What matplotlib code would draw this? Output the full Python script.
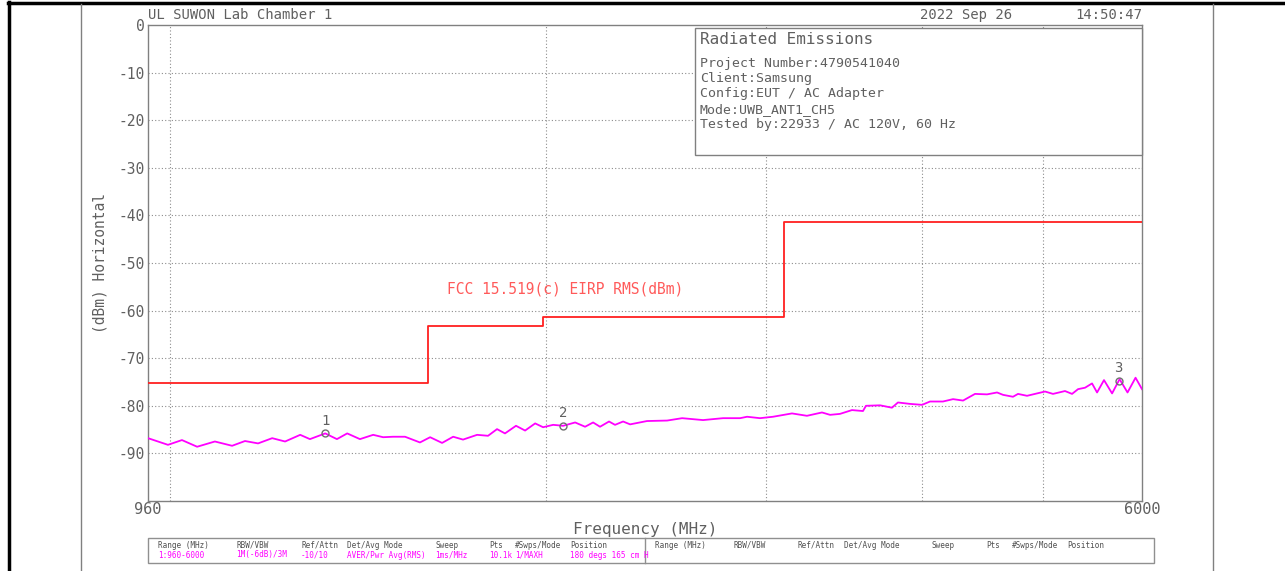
import matplotlib
matplotlib.use("Agg")
import matplotlib.pyplot as plt
from matplotlib.lines import Line2D
from matplotlib.patches import Rectangle
from matplotlib.ticker import NullLocator

# --- data ---
trace_freq = [960, 996, 1022, 1051, 1086, 1121, 1148, 1176, 1207, 1236, 1271, 1294,
              1331, 1360, 1386, 1419, 1454, 1481, 1508, 1542, 1585, 1615, 1651, 1685,
              1716, 1761, 1797, 1827, 1854, 1892, 1924, 1960, 1989, 2026, 2064, 2110,
              2149, 2181, 2209, 2246, 2271, 2305, 2335, 2409, 2500, 2570, 2671, 2771,
              2860, 2897, 2967, 3039, 3147, 3235, 3326, 3376, 3438, 3515, 3587, 3607,
              3702, 3784, 3826, 3912, 4000, 4059, 4157, 4235, 4314, 4410, 4509, 4593,
              4644, 4730, 4774, 4854, 4944, 5018, 5092, 5206, 5274, 5333, 5402, 5472,
              5523, 5594, 5678, 5757, 5842, 5929, 6000]
trace_dbm = [-86.8, -88.2, -87.2, -88.6, -87.5, -88.4, -87.4, -87.9, -86.8, -87.5, -86.1, -87.0,
             -85.8, -87.0, -85.8, -87.0, -86.1, -86.6, -86.5, -86.5, -87.7, -86.6, -87.8, -86.5,
             -87.1, -86.1, -86.3, -84.9, -85.8, -84.2, -85.2, -83.7, -84.5, -84.0, -84.2, -83.5,
             -84.4, -83.5, -84.4, -83.3, -84.0, -83.3, -83.9, -83.2, -83.1, -82.6, -83.0, -82.6,
             -82.6, -82.3, -82.6, -82.3, -81.6, -82.1, -81.4, -81.9, -81.7, -80.9, -81.1, -80.0,
             -79.9, -80.4, -79.3, -79.6, -79.8, -79.1, -79.1, -78.6, -78.9, -77.5, -77.6, -77.2,
             -77.7, -78.1, -77.5, -77.9, -77.4, -77.0, -77.5, -76.9, -77.5, -76.5, -76.2, -75.3,
             -77.2, -74.6, -77.4, -74.4, -77.2, -74.1, -76.5]

limit_freq = [960, 1610, 1610, 1990, 1990, 3100, 3100, 6000]
limit_dbm = [-75.3, -75.3, -63.3, -63.3, -61.3, -61.3, -41.3, -41.3]

marker_ids = ["1", "2", "3"]
marker_freq = [1331, 2064, 5747]
marker_dbm = [-85.8, -84.2, -74.8]

grid_freq = [1000, 2000, 3000, 4000, 5000]
y_ticks = [0, -10, -20, -30, -40, -50, -60, -70, -80, -90, -100]

info_lines = ["Project Number:4790541040", "Client:Samsung", "Config:EUT / AC Adapter",
              "Mode:UWB_ANT1_CH5", "Tested by:22933 / AC 120V, 60 Hz"]

tbl_heads = ["Range (MHz)", "RBW/VBW", "Ref/Attn", "Det/Avg Mode", "Sweep", "Pts",
             "#Swps/Mode", "Position"]
tbl_vals = ["1:960-6000", "1M(-6dB)/3M", "-10/10", "AVER/Pwr Avg(RMS)", "1ms/MHz",
            "10.1k", "1/MAXH", "180 degs 165 cm H"]

W, H = 1285, 571
txt_col = "#606060"
grid_col = "#8c8c8c"
mono = ["DejaVu Sans Mono"]


def fx(x):
    return x / W


def fy(y):
    return 1 - y / H


fig = plt.figure(figsize=(W / 100, H / 100), dpi=100)
fig.patch.set_facecolor("white")
ax = fig.add_axes([fx(148), fy(501), (1142 - 148) / W, (501 - 25) / H])

ax.set_xscale("log")
ax.set_xlim(960, 6000)
ax.set_ylim(-100, 0)

for f in grid_freq:
    ax.axvline(f, color=grid_col, lw=0.8, ls=(0, (1, 2)), zorder=1)
for y in y_ticks[1:-1]:
    ax.axhline(y, color=grid_col, lw=0.8, ls=(0, (1, 2)), zorder=1)

ax.plot(limit_freq, limit_dbm, color="#ff2020", lw=1.3, zorder=3)
ax.plot(trace_freq, trace_dbm, color="#ff00ff", lw=1.3, zorder=4)
ax.plot(marker_freq, marker_dbm, ls="none", marker="o", ms=5, mfc="none",
        mec="#707070", mew=1.0, zorder=5)
for lab, f, d in zip(marker_ids, marker_freq, marker_dbm):
    ax.text(f, d + 1.2, lab, ha="center", va="bottom", fontsize=10,
            family=mono, color=txt_col, zorder=6)

ax.text(2070, -55.4, "FCC 15.519(c) EIRP RMS(dBm)", ha="center", va="center",
        fontsize=10.5, family=mono, color="#ff5a5a")

ax.set_yticks(y_ticks)
ax.set_yticklabels([str(v) if v > -100 else "" for v in y_ticks], family=mono,
                   fontsize=10.5, color=txt_col)
ax.set_xticks([960, 6000])
ax.set_xticklabels(["960", "6000"], family=mono, fontsize=11, color=txt_col)
ax.xaxis.set_minor_locator(NullLocator())
ax.tick_params(length=0, pad=2)
ax.tick_params(axis="x", pad=1)
for s in ax.spines.values():
    s.set_color("#808080")
    s.set_linewidth(1.0)

ax.set_xlabel("Frequency (MHz)", family=mono, fontsize=11.5, color=txt_col, labelpad=3)
ax.set_ylabel("(dBm) Horizontal", family=mono, fontsize=10.5, color=txt_col, labelpad=8)

# header texts
fig.text(fx(148), fy(15), "UL SUWON Lab Chamber 1", ha="left", va="center",
         fontsize=10, family=mono, color=txt_col)
fig.text(fx(1012), fy(15), "2022 Sep 26", ha="right", va="center",
         fontsize=10, family=mono, color=txt_col)
fig.text(fx(1142), fy(15), "14:50:47", ha="right", va="center",
         fontsize=10, family=mono, color=txt_col)

# info box
fig.add_artist(Rectangle((fx(695), fy(155)), (1142 - 695) / W, (155 - 28) / H,
                         transform=fig.transFigure, facecolor="white",
                         edgecolor="#808080", lw=1.0, zorder=5))
fig.text(fx(700), fy(40), "Radiated Emissions", ha="left", va="center",
         fontsize=11.5, family=mono, color=txt_col, zorder=6)
for i, line in enumerate(info_lines):
    fig.text(fx(700), fy(63 + i * 15.4), line, ha="left", va="center",
             fontsize=9.5, family=mono, color=txt_col, zorder=6)

# settings table
fig.add_artist(Rectangle((fx(148), fy(563)), (1154 - 148) / W, (563 - 538) / H,
                         transform=fig.transFigure, facecolor="none",
                         edgecolor="#909090", lw=1.0))
fig.add_artist(Line2D([fx(645), fx(645)], [fy(538), fy(563)], color="#909090", lw=1.0))
col_x = [158, 236, 301, 347, 435, 489, 515, 570]
for cx, h, v in zip(col_x, tbl_heads, tbl_vals):
    fig.text(fx(cx), fy(545), h, ha="left", va="center", fontsize=5.5,
             family=mono, color="#505050")
    fig.text(fx(cx), fy(555), v, ha="left", va="center", fontsize=5.5,
             family=mono, color="#ff00ff")
    fig.text(fx(cx + 497), fy(545), h, ha="left", va="center", fontsize=5.5,
             family=mono, color="#505050")

# page frame
fig.add_artist(Line2D([fx(9), fx(9)], [fy(2), 0], color="black", lw=2.5))
fig.add_artist(Line2D([fx(8), 1], [fy(3), fy(3)], color="black", lw=2.5))
fig.add_artist(Line2D([fx(81), fx(81)], [fy(4), 0], color="#808080", lw=1.0))
fig.add_artist(Line2D([fx(1213), fx(1213)], [fy(4), 0], color="#808080", lw=1.0))

fig.savefig("out.png", dpi=100, facecolor="white")
